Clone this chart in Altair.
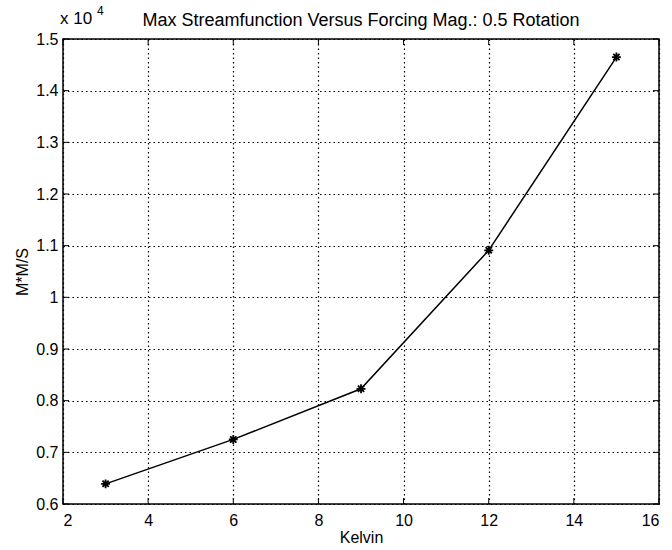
import altair as alt
import pandas as pd

kelvin = [3, 6, 9, 12, 15]
psi = [0.639, 0.725, 0.823, 1.091, 1.465]
x_ticks = [2, 4, 6, 8, 10, 12, 14, 16]
y_ticks = [0.6, 0.7, 0.8, 0.9, 1.0, 1.1, 1.2, 1.3, 1.4, 1.5]
title_text = "Max Streamfunction Versus Forcing Mag.: 0.5 Rotation"

FONT = "Liberation Sans"
W, H = 596, 465

df = pd.DataFrame({"Kelvin": kelvin, "psi": psi})
xt = pd.DataFrame({"v": x_ticks})
yt = pd.DataFrame({"v": y_ticks})

xs = alt.Scale(domain=[2, 16], nice=False, zero=False)
ys = alt.Scale(domain=[0.6, 1.5], nice=False, zero=False)

asterisk = "M-1,0L1,0M0,-1L0,1M-0.7,-0.7L0.7,0.7M-0.7,0.7L0.7,-0.7"

base = alt.Chart(df)

line = base.mark_line(color="black", strokeWidth=1.5).encode(
    x=alt.X("Kelvin:Q", scale=xs,
            axis=alt.Axis(values=x_ticks, title="Kelvin", grid=True, ticks=False, domain=False,
                          labelPadding=8, titlePadding=1, format="d")),
    y=alt.Y("psi:Q", scale=ys,
            axis=alt.Axis(values=y_ticks, title="M*M/S", grid=True, ticks=False, domain=False,
                          labelPadding=5, titlePadding=5,
                          labelExpr="datum.value == 1 ? '1' : format(datum.value, '.1f')")),
)

pts = base.mark_point(shape=asterisk, filled=False, color="black", size=80, strokeWidth=1.8, opacity=1).encode(
    x=alt.X("Kelvin:Q", scale=xs),
    y=alt.Y("psi:Q", scale=ys),
)

xb = alt.Chart(xt).mark_rule(color="black", strokeWidth=1).encode(
    x=alt.X("v:Q", scale=xs), y=alt.value(H), y2=alt.value(H - 6))
xtop = alt.Chart(xt).mark_rule(color="black", strokeWidth=1).encode(
    x=alt.X("v:Q", scale=xs), y=alt.value(0), y2=alt.value(6))
yl = alt.Chart(yt).mark_rule(color="black", strokeWidth=1).encode(
    y=alt.Y("v:Q", scale=ys), x=alt.value(0), x2=alt.value(6))
yr = alt.Chart(yt).mark_rule(color="black", strokeWidth=1).encode(
    y=alt.Y("v:Q", scale=ys), x=alt.value(W), x2=alt.value(W - 6))

lab = pd.DataFrame({"t": ["x 10"], "s": ["4"], "title": [title_text]})
exp1 = alt.Chart(lab).mark_text(align="left", baseline="alphabetic", fontSize=17, font=FONT, color="black").encode(
    x=alt.value(-3), y=alt.value(-15), text="t:N")
exp2 = alt.Chart(lab).mark_text(align="left", baseline="alphabetic", fontSize=12, font=FONT, color="black").encode(
    x=alt.value(34), y=alt.value(-24), text="s:N")
ttl = alt.Chart(lab).mark_text(align="center", baseline="alphabetic", fontSize=18, font=FONT, color="black").encode(
    x=alt.value(W / 2), y=alt.value(-13), text="title:N")

chart = alt.layer(line, xb, xtop, yl, yr, pts, exp1, exp2, ttl).properties(
    width=W, height=H,
    background="white",
    autosize=alt.AutoSizeParams(type="none"),
    padding={"left": 63, "top": 39, "right": 13, "bottom": 46},
).configure_view(stroke="black", strokeWidth=1.5).configure_axis(
    labelFont=FONT, titleFont=FONT, labelFontSize=16, titleFontSize=16,
    labelColor="black", titleColor="black", titleFontWeight="normal",
    gridColor="black", gridDash=[1.5, 3], gridWidth=1.2, gridOpacity=1,
)

chart.save("out.html", embed_options={"renderer": "svg", "actions": False})
